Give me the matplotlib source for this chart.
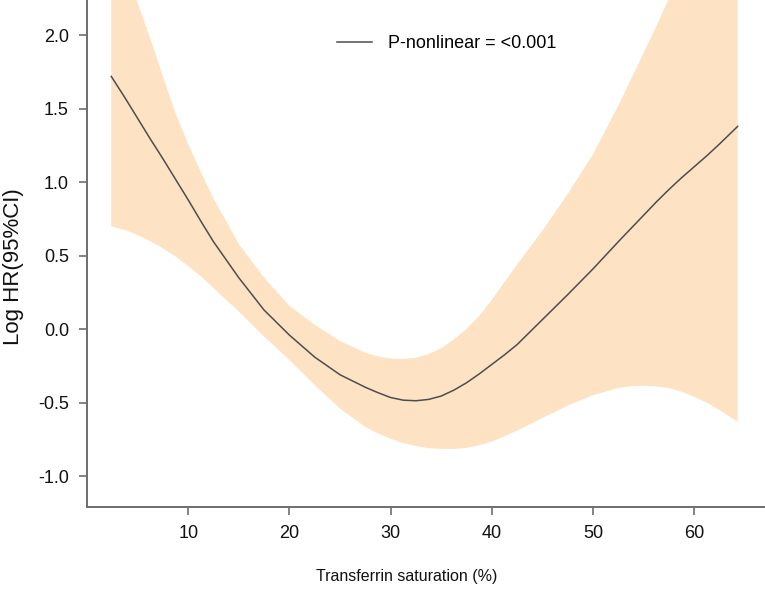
import matplotlib
matplotlib.use("Agg")
import matplotlib.pyplot as plt

plt.rcParams["font.family"] = ["Liberation Sans", "DejaVu Sans"]

# values
tsat = [2.4, 3.75, 5, 6.25, 7.5, 8.75, 10, 11.25, 12.5, 15, 17.5, 20, 22.5,
        25, 27.5, 28.75, 30, 31.25, 32.5, 33.75, 35, 36.25, 37.5, 38.75, 40,
        41.25, 42.5, 45, 47.5, 50, 52.5, 53.75, 55, 56.25, 57.5, 58.75, 60,
        61.25, 62.5, 64.3]
log_hr = [1.72, 1.575, 1.435, 1.295, 1.16, 1.02, 0.88, 0.735, 0.595, 0.35,
          0.13, -0.04, -0.19, -0.31, -0.395, -0.432, -0.465, -0.483, -0.487,
          -0.478, -0.455, -0.415, -0.365, -0.305, -0.24, -0.175, -0.105,
          0.065, 0.235, 0.41, 0.595, 0.685, 0.775, 0.865, 0.95, 1.03, 1.105,
          1.18, 1.26, 1.38]
upper = [2.78, 2.5, 2.22, 1.98, 1.72, 1.47, 1.26, 1.07, 0.89, 0.58, 0.35,
         0.16, 0.03, -0.08, -0.16, -0.185, -0.20, -0.203, -0.195, -0.17,
         -0.13, -0.07, 0.0, 0.09, 0.20, 0.32, 0.44, 0.67, 0.92, 1.19, 1.52,
         1.70, 1.88, 2.06, 2.25, 2.43, 2.6, 2.78, 2.95, 3.2]
lower = [0.70, 0.675, 0.64, 0.60, 0.55, 0.495, 0.43, 0.36, 0.28, 0.12, -0.05,
         -0.21, -0.38, -0.54, -0.665, -0.71, -0.745, -0.775, -0.795, -0.81,
         -0.815, -0.815, -0.808, -0.79, -0.765, -0.73, -0.69, -0.605, -0.52,
         -0.45, -0.40, -0.388, -0.385, -0.39, -0.40, -0.425, -0.46, -0.50,
         -0.55, -0.63]
xticks = [10, 20, 30, 40, 50, 60]
yticks = [-1.0, -0.5, 0.0, 0.5, 1.0, 1.5, 2.0]

fig = plt.figure(figsize=(7.65, 5.89), dpi=100)
ax = fig.add_axes([87 / 765, 1 - 507 / 589, 678 / 765, 507 / 589])

ax.fill_between(tsat, lower, upper, color="#fde3c4", lw=0)
ax.plot(tsat, log_hr, color="#4d4d4d", lw=1.1, label="P-nonlinear = <0.001")

ax.set_xlim(0, 67)
ax.set_ylim(-1.21, 2.24)
ax.set_xticks(xticks)
ax.set_yticks(yticks)
ax.set_yticklabels(["%.1f" % v for v in yticks])

for s in ["top", "right"]:
    ax.spines[s].set_visible(False)
for s in ["left", "bottom"]:
    ax.spines[s].set_color("#6e6e6e")
    ax.spines[s].set_linewidth(1.4)
ax.tick_params(colors="#6e6e6e", labelcolor="#111111", length=6, width=1.2,
               labelsize=13, pad=7)

ax.set_xlabel("Transferrin saturation (%)", fontsize=11.5, color="#111111")
ax.xaxis.set_label_coords((407 - 87) / 678, -70 / 507)
ax.xaxis.label.set_va("center")
ax.set_ylabel("Log HR(95%CI)", fontsize=16, color="#111111")
ax.yaxis.set_label_coords(-73 / 678, (507 - 267) / 507)
ax.yaxis.label.set_va("center")

ax.legend(loc="center left", bbox_to_anchor=((337 - 87) / 678, (507 - 44) / 507),
          frameon=False, fontsize=13, handlelength=1.95, handletextpad=0.9,
          borderpad=0, borderaxespad=0)

fig.savefig("out.png", dpi=100)
